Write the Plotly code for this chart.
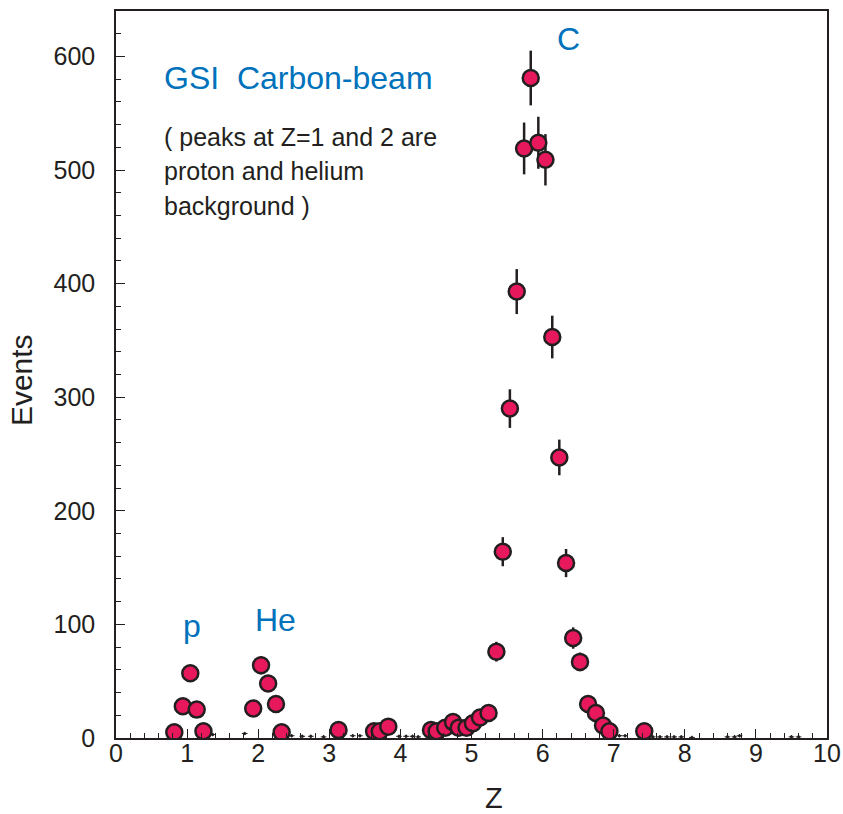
import plotly.graph_objects as go

# ---- data ----
z_main = [0.82, 0.94, 1.045, 1.135, 1.23, 1.93, 2.04, 2.14, 2.25, 2.33,
          3.13, 3.63, 3.71, 3.83, 4.43, 4.51, 4.63, 4.74, 4.82, 4.93,
          5.02, 5.12, 5.24, 5.35, 5.44, 5.54, 5.636, 5.74, 5.833, 5.94,
          6.04, 6.136, 6.235, 6.33, 6.43, 6.526, 6.64, 6.75, 6.85, 6.94, 7.43]
events_main = [5, 28, 57, 25, 6, 26, 64, 48, 30, 5,
               7, 6, 6, 10, 7, 6, 9, 14, 9, 9,
               13, 18, 22, 76, 164, 290, 393, 519, 581, 524,
               509, 353, 247, 154, 88, 67, 30, 22, 11, 6, 6]
err_main = [2, 5, 7.5, 5, 2.5, 5, 8, 7, 5.5, 2,
            2.5, 2.5, 2.5, 3, 2.5, 2.5, 3, 3.7, 3, 3,
            3.6, 4.2, 4.7, 8.7, 12.8, 17, 19.8, 22.8, 24.1, 22.9,
            22.6, 18.8, 15.7, 12.4, 9.4, 8.2, 5.5, 4.7, 3.3, 2.5, 2.5]

z_bg = [1.36, 1.81, 2.47, 2.62, 2.74, 2.92, 3.33, 3.43, 3.98, 4.08,
        4.17, 4.25, 7.08, 7.16, 7.55, 7.65, 7.75, 7.85, 7.95, 8.1,
        8.6, 8.7, 8.77, 9.5, 9.6]
events_bg = [3, 4, 2, 1.5, 1.5, 1, 2, 2, 1.5, 1.5,
             1.5, 1, 2, 2, 1, 1, 1, 1, 1, 0.5,
             1, 1, 2, 1, 1]

x_ticks = list(range(0, 11))
y_ticks = [0, 100, 200, 300, 400, 500, 600]

DARK = "#231F20"
BLUE = "#0072BC"
RED = "#E8185C"
FONT = "Liberation Sans, Arial, Helvetica, sans-serif"

fig = go.Figure()

fig.add_trace(go.Scatter(
    x=z_bg, y=events_bg, mode="markers",
    marker=dict(size=3, color=DARK),
    error_x=dict(type="constant", value=0.04, color=DARK, thickness=1, width=0),
    error_y=dict(type="constant", value=1.5, color=DARK, thickness=1, width=0),
    showlegend=False, hoverinfo="skip"))

fig.add_trace(go.Scatter(
    x=z_main, y=events_main, mode="markers",
    marker=dict(size=16, color=RED, line=dict(color=DARK, width=2.5)),
    error_y=dict(type="data", array=err_main, color=DARK, thickness=2.5, width=0),
    showlegend=False))

axis_common = dict(
    showline=True, linecolor=DARK, linewidth=1.5, mirror=True,
    showgrid=False, zeroline=False, automargin=False,
    ticks="inside", tickcolor=DARK, tickwidth=1, ticklen=9,
    tickfont=dict(family=FONT, size=25, color=DARK),
)

fig.update_xaxes(range=[0, 10], tickvals=x_ticks, ticktext=[str(v) for v in x_ticks],
                 minor=dict(dtick=0.2, ticks="inside", ticklen=5, tickcolor=DARK, tickwidth=1),
                 ticklabelstandoff=-8, **axis_common)
fig.update_yaxes(range=[0, 640], tickvals=y_ticks, ticktext=[str(v) for v in y_ticks],
                 minor=dict(dtick=20, ticks="inside", ticklen=5, tickcolor=DARK, tickwidth=1),
                 ticklabelstandoff=14, **axis_common)

annotations = [
    dict(x=0.647, y=581, text="GSI  Carbon-beam", font=dict(size=32, color=BLUE)),
    dict(x=0.647, y=529, text="( peaks at Z=1 and 2 are", font=dict(size=25, color=DARK)),
    dict(x=0.647, y=499, text="proton and helium", font=dict(size=25, color=DARK)),
    dict(x=0.647, y=468, text="background )", font=dict(size=25, color=DARK)),
]
for a in annotations:
    a.update(xref="x", yref="y", xanchor="left", yanchor="middle", showarrow=False)
    a["font"]["family"] = FONT
    fig.add_annotation(**a)

for txt, xx, yy in [("C", 6.37, 615), ("p", 1.07, 99), ("He", 2.25, 104)]:
    fig.add_annotation(x=xx, y=yy, xref="x", yref="y", text=txt, showarrow=False,
                       xanchor="center", yanchor="middle",
                       font=dict(family=FONT, size=32, color=BLUE))

fig.add_annotation(x=-0.132, y=0.4925, xref="paper", yref="paper", text="Events",
                   textangle=-90, showarrow=False, xanchor="center", yanchor="middle",
                   font=dict(family=FONT, size=30, color=DARK))
fig.add_annotation(x=0.5316, y=-0.082, xref="paper", yref="paper", text="Z",
                   showarrow=False, xanchor="center", yanchor="middle",
                   font=dict(family=FONT, size=29, color=DARK))

fig.update_layout(
    width=843, height=814, autosize=False,
    margin=dict(l=116, r=16, t=11, b=76),
    paper_bgcolor="white", plot_bgcolor="white",
    font=dict(family=FONT, color=DARK),
)

fig.write_html(
    "out.html",
    config={"responsive": False, "displayModeBar": False},
    post_script="document.body.style.margin='0';document.body.style.overflow='hidden';",
)
